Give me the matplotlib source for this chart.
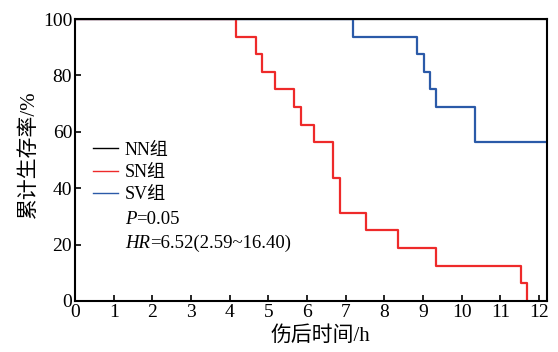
import matplotlib
matplotlib.use("Agg")
import matplotlib.pyplot as plt

plt.rcParams['font.family'] = ['Liberation Serif', 'Noto Sans CJK SC']

# survival data (Kaplan-Meier steps)
nn_time = [0, 12.2]
nn_surv = [100, 100]
sn_time = [0, 4.17, 4.68, 4.84, 5.18, 5.67, 5.84, 6.17, 6.68, 6.84, 7.53, 8.35, 9.34, 11.53, 11.68]
sn_surv = [100, 93.75, 87.5, 81.25, 75, 68.75, 62.5, 56.25, 43.75, 31.25, 25, 18.75, 12.5, 6.25, 0]
sv_time = [0, 7.18, 8.85, 9.02, 9.18, 9.34, 10.35, 12.2]
sv_surv = [100, 93.75, 87.5, 81.25, 75, 68.75, 56.25, 56.25]
labels = ['NN组', 'SN组', 'SV组']
colors = ['black', '#ee2a2a', '#2b5aa8']
xticks = list(range(0, 13))
yticks = [0, 20, 40, 60, 80, 100]
stats = [('P', '=0.05'), ('HR', '=6.52(2.59~16.40)')]

fig = plt.figure(figsize=(5.58, 3.52), dpi=100)
ax = fig.add_axes([0.1344, 0.145, 0.8456, 0.801])

for t, s, lab, c in zip([nn_time, sn_time, sv_time], [nn_surv, sn_surv, sv_surv], labels, colors):
    ax.step(t, s, where='post', color=c, lw=1.6, label=lab)

ax.set_xlim(0, 12.2)
ax.set_ylim(0, 100)
ax.set_xticks(xticks)
ax.set_yticks(yticks)
ax.tick_params(direction='in', length=4, width=1.2, labelsize=14, pad=2, top=False, right=False)
for sp in ax.spines.values():
    sp.set_linewidth(1.5)

ax.set_xlabel('伤后时间/h', fontsize=15)
ax.xaxis.set_label_coords(0.52, -0.09)
ax.set_ylabel('累计生存率/%', fontsize=15)
ax.yaxis.set_label_coords(-0.077, 0.52)

leg = ax.legend(loc='upper left', bbox_to_anchor=(0.012, 0.61), frameon=False, fontsize=13,
                handlelength=1.35, handletextpad=0.4, labelspacing=0.3, borderaxespad=0.3)
for h in leg.get_lines():
    h.set_linewidth(1.0)

ys = [0.29, 0.203]
for (it, rest), y in zip(stats, ys):
    t1 = ax.text(0.106, y, it, transform=ax.transAxes, fontsize=13.5, style='italic', va='center')
    ax.annotate(rest, xy=(1, 0.5), xycoords=t1, va='center', fontsize=13.5)

fig.savefig('out.png', dpi=100)
